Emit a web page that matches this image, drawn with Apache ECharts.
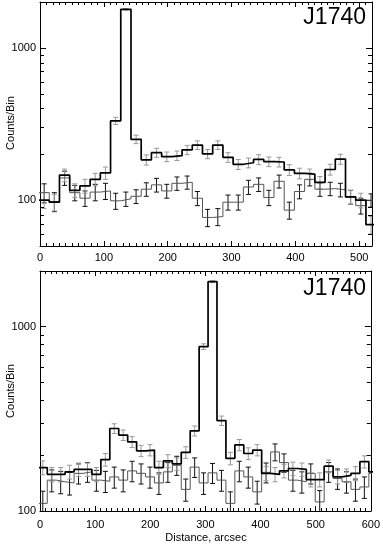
<!DOCTYPE html>
<html>
<head>
<meta charset="utf-8">
<script src="https://cdn.jsdelivr.net/npm/echarts@6/dist/echarts.min.js"></script>
<style>
html, body { margin: 0; padding: 0; background: #fff; }
#main { width: 383px; height: 545px; }
</style>
</head>
<body>
<div id="main"></div>
<script>
// top panel, bins of 16 arcsec
var topStart = -1.5
var topBin = 16
var topSrc = [100, 97, 146, 116, 124, 137, 151, 332, 1789, 251, 184, 205, 193, 196, 214, 230, 201, 230, 191, 172, 176, 185, 179, 178, 158, 150, 148, 131, 159, 186, 105, 100, 69]
var topSrcErr = [12, 12, 14, 12, 13, 13, 14, 18, 20, 16, 14, 14, 14, 14, 15, 15, 14, 15, 14, 13, 13, 14, 13, 13, 13, 12, 12, 12, 13, 14, 11, 11, 9]
var topBkg = [112, 98, 140, 112, 103, 113, 115, 99, 102, 106, 118, 126, 115, 129, 131, 103, 77, 78, 97, 97, 122, 127, 104, 133, 86, 114, 137, 118, 119, 117, 105, 92, 100]
var topBkgErr = [16, 14, 15, 13, 12, 14, 14, 12, 11, 11, 12, 13, 12, 13, 13, 11, 10, 10, 11, 11, 13, 13, 12, 13, 11, 12, 13, 12, 12, 12, 11, 11, 10]
var topMinorTicks = [60, 70, 80, 90, 200, 300, 400, 500, 600, 700, 800, 900]

// bottom panel
var botStart = -3
var botBin = 16.2
var botSrc = [172, 158, 158, 163, 168, 168, 158, 190, 280, 258, 237, 212, 214, 172, 187, 180, 208, 272, 778, 1750, 309, 193, 228, 205, 214, 160, 158, 165, 170, 168, 148, 148, 175, 153, 156, 160, 185, 163]
var botSrcErr = [15, 14, 14, 14, 14, 14, 14, 15, 17, 17, 16, 15, 15, 14, 15, 14, 15, 17, 28, 20, 18, 15, 16, 15, 15, 14, 14, 14, 14, 14, 13, 13, 14, 13, 13, 14, 14, 14]
var botBkg = [110, 147, 144, 142, 160, 163, 147, 145, 153, 147, 165, 160, 153, 142, 163, 177, 131, 173, 142, 161, 147, 110, 165, 153, 127, 162, 209, 183, 147, 144, 160, 112, 163, 150, 144, 131, 135, 160]
var botBkgErr = [18, 20, 20, 20, 20, 20, 19, 19, 20, 20, 21, 20, 20, 19, 20, 21, 18, 21, 19, 20, 19, 17, 21, 20, 18, 20, 22, 21, 19, 19, 20, 17, 20, 19, 19, 18, 18, 19]
var botMinorTicks = [200, 300, 400, 500, 600, 700, 800, 900]

var FONT = 'Liberation Sans'
var TOP_MAX = 520
var BOT_MAX = 600

// left edges + closing point, drawn with step:'end'
function stepData(start, w, vals) {
  var d = vals.map(function (v, i) { return [start + i * w, v] })
  d.push([start + vals.length * w, vals[vals.length - 1]])
  return d
}

function errData(start, w, vals, errs, max) {
  var d = []
  vals.forEach(function (v, i) {
    var c = start + (i + 0.5) * w
    if (c >= 0 && c <= max) d.push([c, v, errs[i]])
  })
  return d
}

function errRender(color) {
  return function (params, api) {
    var x = api.value(0), v = api.value(1), e = api.value(2)
    var hi = api.coord([x, v + e])
    var lo = api.coord([x, v - e])
    var cap = 2.5
    var st = { stroke: color, lineWidth: 1 }
    return {
      type: 'group',
      children: [
        { type: 'line', shape: { x1: hi[0], y1: hi[1], x2: lo[0], y2: lo[1] }, style: st },
        { type: 'line', shape: { x1: hi[0] - cap, y1: hi[1], x2: hi[0] + cap, y2: hi[1] }, style: st },
        { type: 'line', shape: { x1: lo[0] - cap, y1: lo[1], x2: lo[0] + cap, y2: lo[1] }, style: st }
      ]
    }
  }
}

function minorRender(xmax) {
  return function (params, api) {
    var v = api.value(1)
    var l = api.coord([0, v])
    var r = api.coord([xmax, v])
    var y = Math.round(l[1]) + 0.5
    var st = { stroke: '#000', lineWidth: 1 }
    return {
      type: 'group',
      children: [
        { type: 'line', shape: { x1: l[0], y1: y, x2: l[0] + 4, y2: y }, style: st },
        { type: 'line', shape: { x1: r[0] - 4, y1: y, x2: r[0], y2: y }, style: st }
      ]
    }
  }
}

function xAxis(grid, max, pos, labels, margin) {
  return {
    gridIndex: grid, type: 'value', min: 0, max: max, interval: 100, position: pos,
    axisLine: { show: true, onZero: false, lineStyle: { color: '#000', width: 1 } },
    axisTick: { show: true, inside: true, length: 5, lineStyle: { color: '#000' } },
    minorTick: { show: true, splitNumber: 10, length: 3, lineStyle: { color: '#000' } },
    splitLine: { show: false },
    axisLabel: { show: labels, margin: margin, color: '#000', fontSize: 11, fontFamily: FONT, showMaxLabel: max % 100 === 0 }
  }
}

function yAxis(grid, min, pos, labels) {
  return {
    gridIndex: grid, type: 'log', logBase: 10, min: min, max: 2000, position: pos,
    axisLine: { show: true, onZero: false, lineStyle: { color: '#000', width: 1 } },
    axisTick: { show: true, inside: true, length: 6, lineStyle: { color: '#000' } },
    splitLine: { show: false },
    axisLabel: {
      show: labels, margin: 4, color: '#000', fontSize: 11, fontFamily: FONT,
      formatter: function (v) {
        var r = Math.round(v)
        return (r === 100 || r === 1000) ? String(r) : ''
      }
    }
  }
}

var myChart = echarts.init(document.getElementById('main'), null, { renderer: 'canvas' })

myChart.setOption({
  animation: false,
  backgroundColor: '#fff',
  grid: [
    { left: 40, top: 2, width: 332, height: 244 },
    { left: 40, top: 271, width: 332, height: 240 }
  ],
  xAxis: [
    xAxis(0, TOP_MAX, 'bottom', true, 6),
    xAxis(0, TOP_MAX, 'top', false, 6),
    xAxis(1, BOT_MAX, 'bottom', true, 8),
    xAxis(1, BOT_MAX, 'top', false, 8)
  ],
  yAxis: [
    yAxis(0, 50, 'left', true),
    yAxis(0, 50, 'right', false),
    yAxis(1, 100, 'left', true),
    yAxis(1, 100, 'right', false)
  ],
  graphic: [
    { type: 'text', x: 366, y: 6, style: { text: 'J1740', font: '23px "Liberation Sans"', fill: '#000', align: 'right', verticalAlign: 'top', textAlign: 'right', textVerticalAlign: 'top' } },
    { type: 'text', x: 366, y: 277, style: { text: 'J1740', font: '23px "Liberation Sans"', fill: '#000', align: 'right', verticalAlign: 'top', textAlign: 'right', textVerticalAlign: 'top' } },
    { type: 'text', x: 11, y: 123, rotation: Math.PI / 2, style: { text: 'Counts/Bin', font: '11px "Liberation Sans"', fill: '#000', align: 'center', verticalAlign: 'middle', textAlign: 'center', textVerticalAlign: 'middle' } },
    { type: 'text', x: 11, y: 391, rotation: Math.PI / 2, style: { text: 'Counts/Bin', font: '11px "Liberation Sans"', fill: '#000', align: 'center', verticalAlign: 'middle', textAlign: 'center', textVerticalAlign: 'middle' } },
    { type: 'text', x: 206, y: 538, style: { text: 'Distance, arcsec', font: '11px "Liberation Sans"', fill: '#000', align: 'center', verticalAlign: 'middle', textAlign: 'center', textVerticalAlign: 'middle' } }
  ],
  series: [
    // top panel
    { type: 'line', xAxisIndex: 0, yAxisIndex: 0, step: 'end', showSymbol: false, clip: true,
      data: stepData(topStart, topBin, topBkg), lineStyle: { color: '#555', width: 1 } },
    { type: 'custom', xAxisIndex: 0, yAxisIndex: 0, clip: true, renderItem: errRender('#111'),
      data: errData(topStart, topBin, topBkg, topBkgErr, TOP_MAX) },
    { type: 'custom', xAxisIndex: 0, yAxisIndex: 0, clip: true, renderItem: errRender('#999'),
      data: errData(topStart, topBin, topSrc, topSrcErr, TOP_MAX) },
    { type: 'line', xAxisIndex: 0, yAxisIndex: 0, step: 'end', showSymbol: false, clip: true,
      data: stepData(topStart, topBin, topSrc), lineStyle: { color: '#000', width: 1.7 } },
    { type: 'custom', xAxisIndex: 0, yAxisIndex: 0, renderItem: minorRender(TOP_MAX),
      data: topMinorTicks.map(function (v) { return [0, v] }) },

    // bottom panel
    { type: 'line', xAxisIndex: 2, yAxisIndex: 2, step: 'end', showSymbol: false, clip: true,
      data: stepData(botStart, botBin, botBkg), lineStyle: { color: '#555', width: 1 } },
    { type: 'custom', xAxisIndex: 2, yAxisIndex: 2, clip: true, renderItem: errRender('#111'),
      data: errData(botStart, botBin, botBkg, botBkgErr, BOT_MAX) },
    { type: 'custom', xAxisIndex: 2, yAxisIndex: 2, clip: true, renderItem: errRender('#999'),
      data: errData(botStart, botBin, botSrc, botSrcErr, BOT_MAX) },
    { type: 'line', xAxisIndex: 2, yAxisIndex: 2, step: 'end', showSymbol: false, clip: true,
      data: stepData(botStart, botBin, botSrc), lineStyle: { color: '#000', width: 1.7 } },
    { type: 'custom', xAxisIndex: 2, yAxisIndex: 2, renderItem: minorRender(BOT_MAX),
      data: botMinorTicks.map(function (v) { return [0, v] }) }
  ]
})
</script>
</body>
</html>
